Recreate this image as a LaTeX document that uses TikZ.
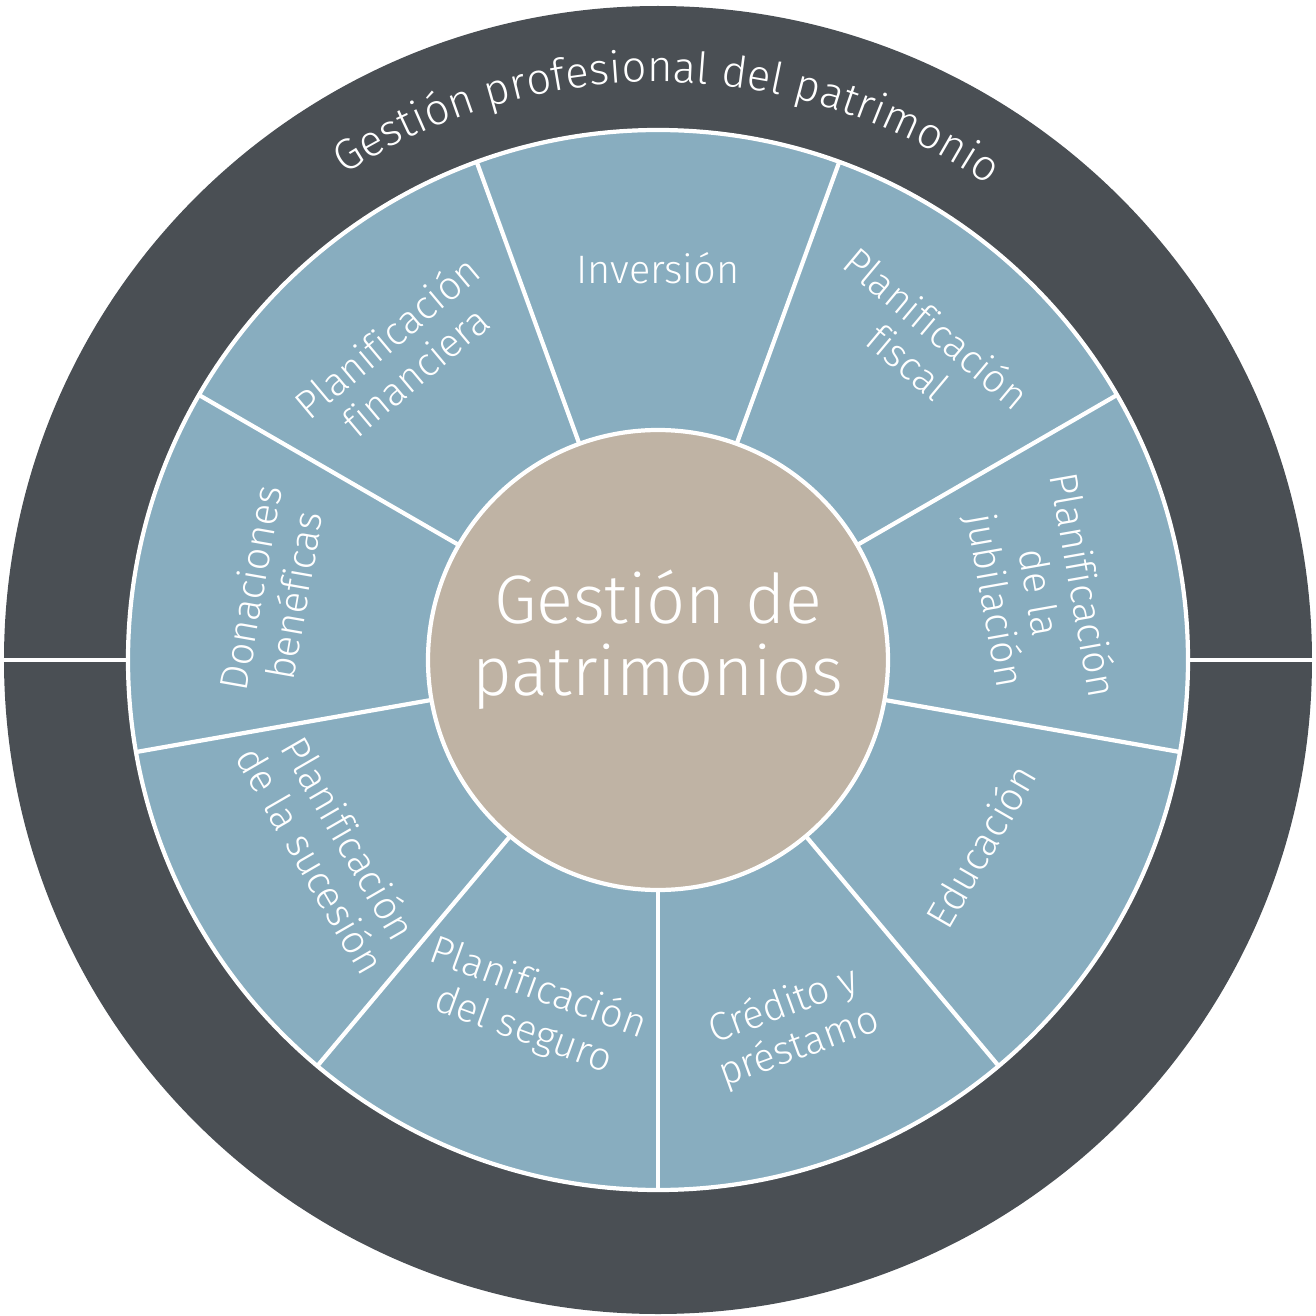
\documentclass[tikz,border=0pt]{standalone}
\usepackage{fontspec}
\setmainfont{Fira Sans Light}[Ligatures=NoCommon]
\usetikzlibrary{decorations.text}

\definecolor{ringgray}{HTML}{4A4F54}
\definecolor{segblue}{HTML}{88ADBF}
\definecolor{coretan}{HTML}{BFB3A4}

\tikzset{
  sep/.style={draw=white, line width=1.2pt},
  seglabel/.style={text=white, align=center, font=\fontsize{11.3}{12.6}\selectfont},
}

\begin{document}
\begin{tikzpicture}
  \useasboundingbox (-6.58,-6.56) rectangle (6.58,6.60);
  % dark outer ring with its title
  \fill[ringgray] (0,0) circle (6.54);
  \draw[sep] (-6.6,0) -- (6.6,0);
  \path[decorate, decoration={text along path, text align=center,
      text={|\color{white}\fontsize{12.4}{14}\selectfont|Gestión profesional del patrimonio}}]
    (135:5.78) arc[start angle=135, end angle=43, radius=5.78];
  % blue ring, nine segments
  \filldraw[fill=segblue, sep] (0,0) circle (5.30);
  \foreach \a in {30,70,...,350}
    \draw[sep] (\a:2.3) -- (\a:5.3);
  \foreach \a/\r/\d/\txt [count=\i] in {
      90/0/3.92/Inversión,
      50/-40/4.12/Planificación\\fiscal,
      10/-80/3.85/Planificación\\de la\\jubilación,
      -30/60/3.72/Educación,
      -70/20/3.9/Crédito y\\préstamo,
      -110/-20/3.72/Planificación\\del seguro,
      -150/-60/3.78/Planificación\\de la sucesión,
      170/80/3.92/Donaciones\\benéficas,
      130/40/4.0/Planificación\\financiera}
    \node[seglabel, rotate=\r] (lbl\i) at (\a:\d) {\txt};
  % centre
  \node[circle, fill=coretan, draw=white, line width=1.2pt, minimum size=4.6cm] (core) at (0,0) {};
  \node[text=white, align=center, font=\fontsize{19.5}{20.5}\selectfont] (coretext) at (0,0.2)
    {Gestión de\\patrimonios};
\end{tikzpicture}
\end{document}
